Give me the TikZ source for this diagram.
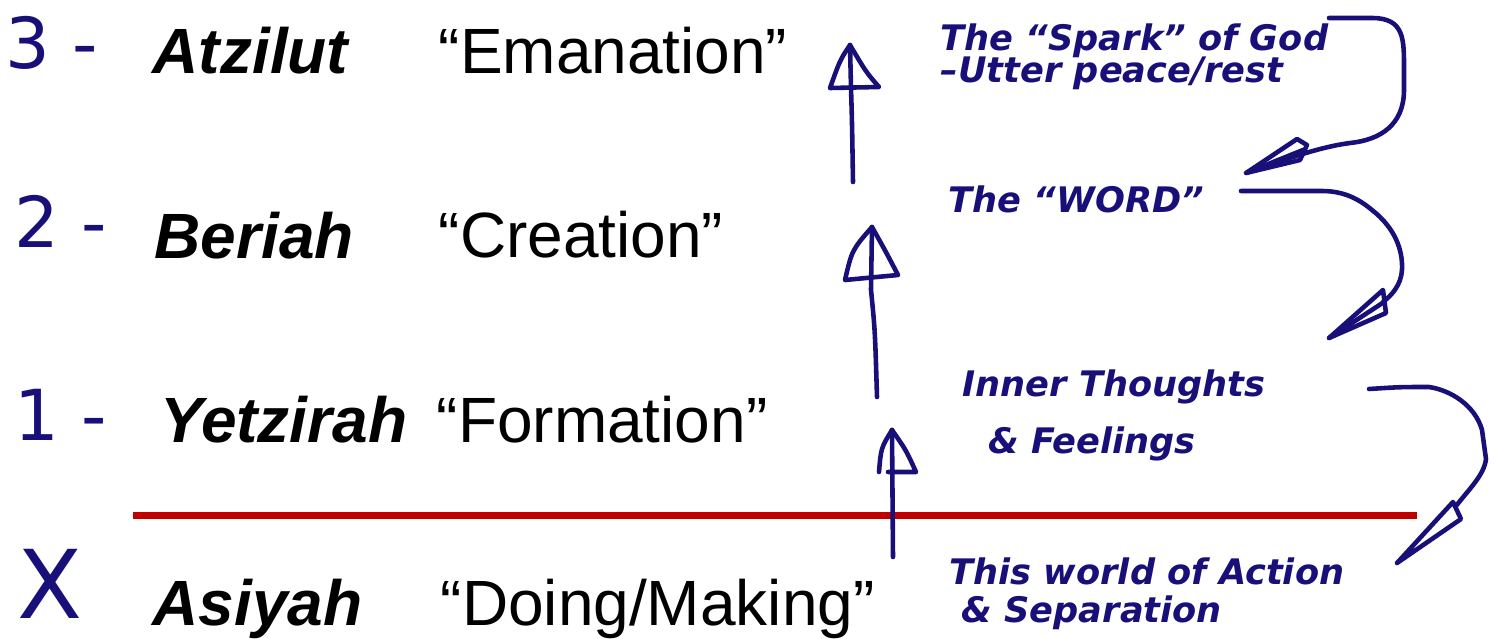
\documentclass[tikz,border=0pt]{standalone}
\usepackage{fontspec}
\setmainfont{Liberation Sans}
\newfontfamily\handfont{DejaVu Sans}
\definecolor{ink}{RGB}{24,16,120}
\definecolor{divider}{RGB}{192,0,0}
\tikzset{
  world/.style={anchor=base west, inner sep=0pt, font=\fontsize{18.2}{20}\selectfont\bfseries\itshape},
  meaning/.style={anchor=base west, inner sep=0pt, font=\fontsize{18.2}{20}\selectfont},
  note/.style={anchor=base west, inner sep=0pt, text=ink, font=\handfont\fontsize{10}{12}\selectfont\bfseries\itshape},
  level/.style={anchor=base west, inner sep=0pt, text=ink, font=\handfont\fontsize{20}{24}\selectfont},
  pen/.style={draw=ink, line width=1.3pt, line cap=round, line join=round},
}

\begin{document}
\begin{tikzpicture}[x=0.01cm, y=-0.01cm]
\useasboundingbox (0,0) rectangle (1499,639);

% the four worlds
\node[world] (atz) at (152,73) {Atzilut};
\node[world] (ber) at (154,258) {Beriah};
\node[world] (yet) at (160,442) {Yetzirah};
\node[world] (asi) at (152,625) {Asiyah};

\node[meaning] (eman) at (438,73) {“Emanation”};
\node[meaning] (crea) at (438,257) {“Creation”};
\node[meaning] (form) at (436,442) {“Formation”};
\node[meaning] (doin) at (440,625) {“Doing/Making”};

% hand numbering
\node[level] (n3) at (5,68) {3 -};
\node[level] (n2) at (14,247) {2 -};
\node[level] (n1) at (14,440) {1 -};
\node[level, font=\handfont\fontsize{27}{30}\selectfont] (nx) at (17,618) {X};

% line between the worlds
\draw[divider, line width=2.1pt] (133,515.5) -- (1417,515.5);

% arrows going up
\coordinate (up1a) at (853,182);
\coordinate (up1b) at (850,45);
\coordinate (up2a) at (877,397);
\coordinate (up2b) at (872,227);
\coordinate (up3a) at (893,557);
\coordinate (up3b) at (892,430);

\draw[pen] (up1a) .. controls (852,120) .. (851,88) -- (up1b);
\draw[pen] (up1b) .. controls (840,60) .. (830,88) -- (879,87) .. controls (866,72) .. (up1b);
\draw[pen] (up2a) .. controls (875,330) .. (871,290) -- (up2b);
\draw[pen] (up2b) .. controls (852,250) .. (845,280) -- (898,275) .. controls (886,252) .. (up2b);
\draw[pen] (up3a) -- (up3b);
\draw[pen] (up3b) .. controls (881,448) .. (879,472);
\draw[pen] (888,472) -- (916,472) .. controls (906,450) .. (up3b);

% notes
\node[note] (spark) at (940,50) {The “Spark” of God};
\node[note] (rest) at (940,82) {–Utter peace/rest};
\node[note] (word) at (948,212) {The “WORD”};
\node[note] (inner) at (962,396) {Inner Thoughts};
\node[note] (feel) at (988,453) {\& Feelings};
\node[note] (act) at (949,584) {This world of Action};
\node[note] (sep) at (961,622) {\& Separation};

% curly arrows down
\coordinate (c1a) at (1329,18);
\coordinate (c1b) at (1246,173);
\coordinate (c2a) at (1241,191);
\coordinate (c2b) at (1329,338);
\coordinate (c3a) at (1369,389);
\coordinate (c3b) at (1397,563);

\draw[pen] (c1a) -- (1372,18) .. controls (1405,18) and (1404,40) .. (1404,70)
  -- (1404,90) .. controls (1404,125) and (1380,140) .. (1350,143)
  .. controls (1320,147) and (1290,158) .. (1260,168);
\draw[pen] (c1b) -- (1297,139) -- (1307,145) -- (1300,160) -- cycle;
\draw[pen] (c1b) -- (1303,150);

\draw[pen] (c2a) -- (1322,191) .. controls (1345,191) and (1360,200) .. (1372,210)
  .. controls (1395,228) and (1403,250) .. (1402,270)
  .. controls (1401,285) and (1392,295) .. (1383,302);
\draw[pen] (c2b) -- (1383,290) -- (1386,313) -- cycle;
\draw[pen] (c2b) -- (1384,302);

\draw[pen] (c3a) .. controls (1400,387) .. (1429,387)
  .. controls (1450,390) and (1475,405) .. (1482,430) -- (1486,459)
  .. controls (1484,475) and (1470,488) .. (1456,506);
\draw[pen] (c3b) -- (1453,502) -- (1461,519) -- cycle;
\end{tikzpicture}
\end{document}
